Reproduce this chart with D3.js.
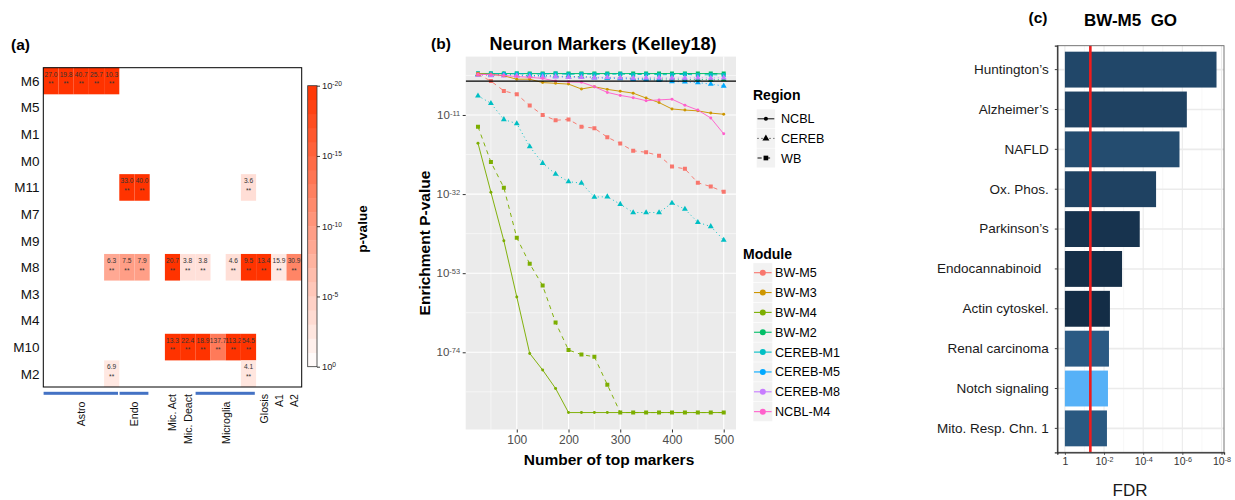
<!DOCTYPE html>
<html>
<head>
<meta charset="utf-8">
<script src="https://cdn.jsdelivr.net/npm/d3@7/dist/d3.min.js"></script>
<style>
  html, body { margin: 0; padding: 0; background: #fff; }
  svg { display: block; }
  text { font-family: "Liberation Sans", Arial, Helvetica, sans-serif; }
</style>
</head>
<body>
<svg id="fig" width="1235" height="500"></svg>
<script>
// ===================== (a) module x cell-type enrichment =====================
const modules = ["M6","M5","M1","M0","M11","M7","M9","M8","M3","M4","M10","M2"];
const cellColumns = ["Astro.1","Astro.2","Astro.3","Astro.4","Astro.5","Endo.1","Endo.2","Other",
  "Mic. Act","Mic. Deact","Microglia.1","Microglia.2","Microglia.3","Microglia.4","Glosis","A1","A2"];
// [label, first column, last column, underlined group]
const columnGroups = [
  ["Astro", "Astro.1", "Astro.5", true],
  ["Endo", "Endo.1", "Endo.2", true],
  ["Mic. Act", "Mic. Act", "Mic. Act", false],
  ["Mic. Deact", "Mic. Deact", "Mic. Deact", false],
  ["Microglia", "Microglia.1", "Microglia.4", true],
  ["Glosis", "Glosis", "Glosis", false],
  ["A1", "A1", "A1", false],
  ["A2", "A2", "A2", false]
];
// [module, column, fold enrichment, -log10 p]
const enrichmentCells = [
  ["M6","Astro.1",27.0,26], ["M6","Astro.2",19.8,23], ["M6","Astro.3",40.7,30], ["M6","Astro.4",25.7,25], ["M6","Astro.5",10.3,21],
  ["M11","Endo.1",33.0,28], ["M11","Endo.2",40.0,30], ["M11","Microglia.4",3.6,3.2],
  ["M8","Astro.5",6.3,8.5], ["M8","Endo.1",7.5,9.5], ["M8","Endo.2",7.9,9.4], ["M8","Mic. Act",20.7,24],
  ["M8","Mic. Deact",3.8,3.0], ["M8","Microglia.1",3.8,3.0], ["M8","Microglia.3",4.6,3.1], ["M8","Microglia.4",9.5,21],
  ["M8","Glosis",13.4,22], ["M8","A1",15.9,2.3], ["M8","A2",30.9,12],
  ["M10","Mic. Act",13.3,23], ["M10","Mic. Deact",22.4,26], ["M10","Microglia.1",18.9,25],
  ["M10","Microglia.2",137.7,13], ["M10","Microglia.3",113.2,22], ["M10","Microglia.4",54.5,21],
  ["M2","Astro.5",6.9,2.3], ["M2","Microglia.4",4.1,2.5]
];
const pvalueTicks = [0, 5, 10, 15, 20];   // -log10 p shown on the colour bar

// ===================== (b) neuron marker enrichment =====================
const markerCounts = [25,50,75,100,125,150,175,200,225,250,275,300,325,350,375,400,425,450,475,500];
const moduleNames  = ["BW-M5","BW-M3","BW-M4","BW-M2","CEREB-M1","CEREB-M5","CEREB-M8","NCBL-M4"];
const moduleColors = ["#F8766D","#CD9600","#7CAE00","#00BE67","#00BFC4","#00A9FF","#C77CFF","#FF61CC"];
const regionNames  = ["NCBL","CEREB","WB"];
const markerTicks  = [100,200,300,400,500];
const pTickExps    = [-11,-32,-53,-74];
const thresholdExp = -2;

// log10 enrichment p-value at each marker count
const bwM2_WB       = [0,0,0,0,0,0,0,0,0,0,0,0,0,0,0,0,0,0,0,0];
const bwM2_NCBL     = [0,0,0,0,0,0,0,0,0,0,0,0,0,0,0,0,0,0,0,-0.1];
const bwM2_CEREB    = [-0.2,-0.3,-0.2,-0.4,-0.5,-0.5,-0.7,-0.8,-0.8,-1.0,-1.1,-1.1,-1.3,-1.4,-1.5,-1.4,-1.6,-1.5,-1.7,-1.6];
const cerebM1_WB    = [0,0,-0.1,0,-0.1,-0.1,0,-0.2,-0.1,-0.2,-0.2,-0.1,-0.3,-0.2,-0.3,-0.3,-0.2,-0.4,-0.3,-0.4];
const cerebM5_CEREB = [-0.3,-0.4,-0.3,-0.5,-0.6,-0.6,-0.8,-0.9,-1.0,-1.1,-1.2,-1.3,-1.5,-1.6,-1.8,-2.1,-2.2,-2.4,-2.8,-3.3];
const cerebM8_CEREB = [-0.4,-0.5,-0.6,-0.6,-0.8,-0.9,-0.8,-1.0,-1.0,-1.1,-1.0,-1.1,-1.2,-1.1,-1.1,-1.2,-1.2,-1.1,-1.2,-1.1];
const bwM5_WB       = [-0.2,-2.0,-4.6,-5.5,-8.5,-11.0,-12.4,-12.2,-14.1,-14.5,-16.9,-18.6,-20.5,-20.9,-21.8,-24.7,-25.3,-29.0,-30.0,-31.4];
const bwM3_NCBL     = [0,-0.2,-0.6,-1.5,-1.5,-2.4,-2.6,-2.8,-4.1,-3.5,-4.2,-4.7,-5.2,-6.5,-7.7,-9.4,-9.7,-9.9,-10.5,-10.8];
const ncblM4_NCBL   = [-0.2,-0.3,-0.5,-0.8,-1.0,-1.3,-2.0,-2.2,-2.3,-3.5,-5.0,-5.8,-6.4,-7.2,-7.0,-6.8,-8.4,-9.7,-11.8,-16.0];
const cerebM1_CEREB = [-5.9,-7.9,-12.2,-13.3,-19.4,-23.8,-26.7,-28.7,-29.1,-32.8,-32.7,-34.7,-36.9,-36.9,-36.9,-34.4,-36.0,-39.5,-40.6,-44.2];
const bwM4_WB       = [-14.1,-23.5,-30.3,-43.6,-50.5,-56.3,-66.1,-73.4,-74.6,-75.2,-82.6,-90,-90,-90,-90,-90,-90,-90,-90,-90];
const bwM4_NCBL     = [-18.5,-31.5,-44.4,-59.3,-74.3,-78.7,-83.6,-90,-90,-90,-90,-90,-90,-90,-90,-90,-90,-90,-90,-90];

// [module, marker region, values] in drawing order
const seriesList = [
  ["BW-M2","WB",bwM2_WB], ["BW-M2","NCBL",bwM2_NCBL], ["BW-M2","CEREB",bwM2_CEREB],
  ["CEREB-M1","WB",cerebM1_WB], ["CEREB-M5","CEREB",cerebM5_CEREB], ["CEREB-M8","CEREB",cerebM8_CEREB],
  ["BW-M5","WB",bwM5_WB], ["BW-M3","NCBL",bwM3_NCBL], ["NCBL-M4","NCBL",ncblM4_NCBL],
  ["CEREB-M1","CEREB",cerebM1_CEREB], ["BW-M4","WB",bwM4_WB], ["BW-M4","NCBL",bwM4_NCBL]
];

// ===================== (c) BW-M5 pathway enrichment =====================
const pathways = ["Huntington\u2019s","Alzheimer\u2019s","NAFLD","Ox. Phos.","Parkinson\u2019s",
  "Endocannabinoid\u00a0\u00a0","Actin cytoskel.","Renal carcinoma","Notch signaling","Mito. Resp. Chn. 1"];
const pathwayFDR   = [1.8e-8, 5.9e-7, 1.4e-6, 2.2e-5, 1.5e-4, 1.2e-3, 5.0e-3, 5.6e-3, 6.3e-3, 7.1e-3];
const pathwayShade = [0.23, 0.19, 0.27, 0.19, 0.07, 0.03, 0.02, 0.38, 1.0, 0.37];
const fdrCutoff = 0.05;
const fdrTicks  = [1, 1e-2, 1e-4, 1e-6, 1e-8];

// ---------------------------------------------------------------------------
const svg = d3.select("#fig");

// "10" with a superscript exponent
function powerLabel(sel, exp, supSize) {
  sel.text(null);
  if (exp === 0 && supSize === null) { sel.text("1"); return; }
  sel.append("tspan").text("10");
  sel.append("tspan").attr("dy", "-0.45em").attr("font-size", supSize).text(exp === 0 ? "0" : "-" + Math.abs(exp));
}

// ---------------- panel (a) ----------------
(function drawA() {
  const g = svg.append("g");
  const xA = d3.scaleBand().domain(cellColumns).range([43.3, 301.7]);
  const yA = d3.scaleBand().domain(modules).range([67.7, 387]);
  const heat = d3.scaleLinear().domain([0, 20]).range(["#ffffff", "#ff3300"]).clamp(true);

  g.append("text").attr("x", 11).attr("y", 49.5).attr("font-size", 15.5).attr("font-weight", "bold").text("(a)");

  g.append("rect").attr("x", 43.3).attr("y", 67.7).attr("width", 258.4).attr("height", 319.3).attr("fill", "#fff");

  const cell = g.selectAll("g.cell").data(enrichmentCells).join("g")
    .attr("transform", d => `translate(${xA(d[1])},${yA(d[0])})`);
  cell.append("rect").attr("width", xA.bandwidth()).attr("height", yA.bandwidth()).attr("fill", d => heat(d[3]));
  cell.append("text").attr("x", xA.bandwidth() / 2).attr("y", yA.bandwidth() / 2 - 4.3)
    .attr("text-anchor", "middle").attr("font-size", 6.6).attr("fill", "#333").text(d => d[2].toFixed(1));
  cell.append("text").attr("x", xA.bandwidth() / 2).attr("y", yA.bandwidth() / 2 + 5.3)
    .attr("text-anchor", "middle").attr("font-size", 6.6).attr("fill", "#333").text("**");

  g.append("rect").attr("x", 43.3).attr("y", 67.7).attr("width", 258.4).attr("height", 319.3)
    .attr("fill", "none").attr("stroke", "#000").attr("stroke-width", 1);

  g.selectAll("text.ylab").data(modules).join("text")
    .attr("x", 39.5).attr("y", d => yA(d) + yA.bandwidth() / 2).attr("dy", "0.36em")
    .attr("text-anchor", "end").attr("font-size", 13.5).attr("fill", "#111").text(d => d);

  const grp = g.selectAll("g.grp").data(columnGroups).join("g");
  grp.filter(d => d[3]).append("rect")
    .attr("x", d => xA(d[1]) + 0.3).attr("y", 391.8)
    .attr("width", d => xA(d[2]) + xA.bandwidth() - xA(d[1]) - 1.6).attr("height", 3)
    .attr("fill", "#4472C4");
  grp.append("text")
    .attr("transform", d => {
      const cx = (xA(d[1]) + xA(d[2]) + xA.bandwidth()) / 2;
      return `translate(${cx},${d[3] ? 401.5 : 394})rotate(-90)`;
    })
    .attr("dy", "0.36em").attr("text-anchor", "end").attr("font-size", 10.6).attr("fill", "#111")
    .text(d => d[0]);

  // colour bar
  const cb = d3.scaleLinear().domain([0, 20]).range([366.7, 85.7]);
  const bins = d3.range(20);
  g.selectAll("rect.bin").data(bins).join("rect")
    .attr("x", 307.7).attr("width", 9.3)
    .attr("y", i => cb(i + 1)).attr("height", i => cb(i) - cb(i + 1) + 0.3)
    .attr("fill", i => heat(i + 0.5));
  g.append("rect").attr("x", 307.7).attr("y", 85.7).attr("width", 9.3).attr("height", 281)
    .attr("fill", "none").attr("stroke", "#333").attr("stroke-width", 0.8);
  const cbAxis = g.append("g").attr("transform", "translate(317,0)")
    .call(d3.axisRight(cb).tickValues(pvalueTicks).tickSize(3).tickPadding(2));
  cbAxis.select(".domain").remove();
  cbAxis.selectAll("line").attr("stroke", "#222").attr("stroke-width", 0.9);
  cbAxis.selectAll("text").attr("font-size", 9.3).attr("fill", "#222").attr("font-family", null)
    .each(function(d) { powerLabel(d3.select(this), d === 0 ? 0 : -d, 6.7); });
  g.append("text").attr("transform", "translate(362.5,229)rotate(-90)").attr("dy", "0.36em")
    .attr("text-anchor", "middle").attr("font-size", 13.5).attr("font-weight", "bold").text("p-value");
})();

// ---------------- panel (b) ----------------
(function drawB() {
  const g = svg.append("g");
  const L = 465.7, R = 736, T = 56.6, B = 429.5;
  const xB = d3.scaleLinear().domain([1.25, 523.75]).range([L, R]);
  const yB = d3.scaleLog().domain([Math.pow(10, -94.5), Math.pow(10, 4.5)]).range([B, T]);
  const P = e => Math.pow(10, e);

  g.append("text").attr("x", 431).attr("y", 48.5).attr("font-size", 15.5).attr("font-weight", "bold").text("(b)");
  g.append("text").attr("x", 603).attr("y", 49.5).attr("text-anchor", "middle")
    .attr("font-size", 18).attr("font-weight", "bold").text("Neuron Markers (Kelley18)");

  g.append("rect").attr("x", L).attr("y", T).attr("width", R - L).attr("height", B - T).attr("fill", "#EBEBEB");
  const minorX = [50,150,250,350,450], minorY = [-0.5,-21.5,-42.5,-63.5,-84.5];
  g.selectAll("line.mx").data(minorX).join("line").attr("x1", xB).attr("x2", xB).attr("y1", T).attr("y2", B)
    .attr("stroke", "#fff").attr("stroke-width", 0.55);
  g.selectAll("line.my").data(minorY).join("line").attr("y1", d => yB(P(d))).attr("y2", d => yB(P(d)))
    .attr("x1", L).attr("x2", R).attr("stroke", "#fff").attr("stroke-width", 0.55);
  g.selectAll("line.gx").data(markerTicks).join("line").attr("x1", xB).attr("x2", xB).attr("y1", T).attr("y2", B)
    .attr("stroke", "#fff").attr("stroke-width", 1.1);
  g.selectAll("line.gy").data(pTickExps).join("line").attr("y1", d => yB(P(d))).attr("y2", d => yB(P(d)))
    .attr("x1", L).attr("x2", R).attr("stroke", "#fff").attr("stroke-width", 1.1);

  const ax = g.append("g").attr("transform", `translate(0,${B})`)
    .call(d3.axisBottom(xB).tickValues(markerTicks).tickSize(3).tickPadding(2.5));
  ax.select(".domain").remove();
  ax.selectAll("line").attr("stroke", "#333");
  ax.selectAll("text").attr("font-size", 12).attr("fill", "#4d4d4d").attr("font-family", null);

  const ay = g.append("g").attr("transform", `translate(${L},0)`)
    .call(d3.axisLeft(yB).tickValues(pTickExps.map(P)).tickSize(3).tickPadding(2.5));
  ay.select(".domain").remove();
  ay.selectAll("line").attr("stroke", "#333");
  ay.selectAll("text").attr("font-size", 11.5).attr("fill", "#4d4d4d").attr("font-family", null)
    .each(function(d, i) { powerLabel(d3.select(this), pTickExps[i], 7.5); });

  g.append("text").attr("x", 609).attr("y", 465).attr("text-anchor", "middle")
    .attr("font-size", 15.5).attr("font-weight", "bold").text("Number of top markers");
  g.append("text").attr("transform", `translate(424,${(T + B) / 2})rotate(-90)`).attr("dy", "0.36em")
    .attr("text-anchor", "middle").attr("font-size", 15.5).attr("font-weight", "bold").text("Enrichment P-value");

  const color = d3.scaleOrdinal().domain(moduleNames).range(moduleColors);
  const dash = { NCBL: null, CEREB: "1,3", WB: "4.2,4.2" };
  const shape = { NCBL: d3.symbolCircle, CEREB: d3.symbolTriangle, WB: d3.symbolSquare };
  const size = { NCBL: 7, CEREB: 15, WB: 16 };
  const line = d3.line().x(d => xB(d[0])).y(d => yB(P(d[1])));

  const clip = g.append("clipPath").attr("id", "clipB");
  clip.append("rect").attr("x", L).attr("y", T).attr("width", R - L).attr("height", B - T);
  const plot = g.append("g").attr("clip-path", "url(#clipB)");

  seriesList.forEach(([mod, region, vals]) => {
    const pts = markerCounts.map((c, i) => [c, vals[i]]);
    plot.append("path").datum(pts).attr("d", line).attr("fill", "none")
      .attr("stroke", color(mod)).attr("stroke-width", 0.95).attr("stroke-dasharray", dash[region]);
    plot.selectAll(null).data(pts).join("path")
      .attr("transform", d => `translate(${xB(d[0])},${yB(P(d[1]))})`)
      .attr("d", d3.symbol().type(shape[region]).size(size[region]))
      .attr("fill", color(mod));
  });

  plot.append("line").attr("x1", L).attr("x2", R).attr("y1", yB(P(thresholdExp))).attr("y2", yB(P(thresholdExp)))
    .attr("stroke", "#000").attr("stroke-width", 1.2);

  // legends
  const lg = g.append("g");
  lg.append("text").attr("x", 753).attr("y", 100).attr("font-size", 14).attr("font-weight", "bold").text("Region");
  regionNames.forEach((r, i) => {
    const cy = 118.8 + i * 19.6;
    lg.append("rect").attr("x", 756.7).attr("y", cy - 9.5).attr("width", 18.4).attr("height", 19).attr("fill", "#F2F2F2");
    lg.append("line").attr("x1", 757.5).attr("x2", 774.3).attr("y1", cy).attr("y2", cy)
      .attr("stroke", "#000").attr("stroke-width", 0.95).attr("stroke-dasharray", dash[r]);
    lg.append("path").attr("transform", `translate(765.9,${cy})`)
      .attr("d", d3.symbol().type(shape[r]).size(size[r] + 6)).attr("fill", "#000");
    lg.append("text").attr("x", 781).attr("y", cy).attr("dy", "0.36em").attr("font-size", 12.6).text(r);
  });
  lg.append("text").attr("x", 743).attr("y", 259).attr("font-size", 14).attr("font-weight", "bold").text("Module");
  moduleNames.forEach((m, i) => {
    const cy = 272.7 + i * 19.85;
    lg.append("rect").attr("x", 753.3).attr("y", cy - 9.6).attr("width", 19).attr("height", 19.2).attr("fill", "#F2F2F2");
    lg.append("line").attr("x1", 754).attr("x2", 771.6).attr("y1", cy).attr("y2", cy)
      .attr("stroke", color(m)).attr("stroke-width", 1.1);
    lg.append("circle").attr("cx", 762.8).attr("cy", cy).attr("r", 3).attr("fill", color(m));
    lg.append("text").attr("x", 775).attr("y", cy).attr("dy", "0.36em").attr("font-size", 12.6).text(m);
  });
})();

// ---------------- panel (c) ----------------
(function drawC() {
  const g = svg.append("g");
  const L = 1057.3, R = 1224, T = 45.7, B = 452.3;
  const xC = d3.scaleLog().domain([Math.pow(10, 0.387), Math.pow(10, -8.127)]).range([L, R]);
  const yC = d3.scaleBand().domain(pathways).range([T, B]).paddingInner(0.1).paddingOuter(0.15);
  const shade = d3.scaleLinear().domain([0, 1]).range(["#132B43", "#56B1F7"]).interpolate(d3.interpolateLab);

  g.append("text").attr("x", 1028.5).attr("y", 22.5).attr("font-size", 15.5).attr("font-weight", "bold").text("(c)");
  g.append("text").attr("x", 1130.5).attr("y", 26).attr("text-anchor", "middle")
    .attr("font-size", 17).attr("font-weight", "bold").attr("xml:space", "preserve").text("BW-M5  GO");

  // grid
  const minor = [1e-1, 1e-3, 1e-5, 1e-7];
  g.selectAll("line.mn").data(minor).join("line").attr("x1", xC).attr("x2", xC).attr("y1", T).attr("y2", B)
    .attr("stroke", "#F2F2F2").attr("stroke-width", 0.6);
  g.selectAll("line.mj").data(fdrTicks).join("line").attr("x1", xC).attr("x2", xC).attr("y1", T).attr("y2", B)
    .attr("stroke", "#EBEBEB").attr("stroke-width", 1.1);
  g.selectAll("line.hy").data(pathways).join("line")
    .attr("y1", d => yC(d) + yC.bandwidth() / 2).attr("y2", d => yC(d) + yC.bandwidth() / 2)
    .attr("x1", L).attr("x2", R).attr("stroke", "#EBEBEB").attr("stroke-width", 1.6);

  g.selectAll("rect.bar").data(pathways).join("rect")
    .attr("x", xC(1)).attr("y", d => yC(d))
    .attr("width", (d, i) => xC(pathwayFDR[i]) - xC(1)).attr("height", yC.bandwidth())
    .attr("fill", (d, i) => shade(pathwayShade[i]));

  g.append("line").attr("x1", xC(fdrCutoff)).attr("x2", xC(fdrCutoff)).attr("y1", T).attr("y2", B)
    .attr("stroke", "#EE1C1C").attr("stroke-width", 2.6);

  g.append("rect").attr("x", L).attr("y", T).attr("width", R - L).attr("height", B - T)
    .attr("fill", "none").attr("stroke", "#666").attr("stroke-width", 0.9);

  const ay = g.append("g").attr("transform", `translate(${L},0)`)
    .call(d3.axisLeft(yC).tickSize(2.5).tickPadding(6));
  ay.select(".domain").attr("stroke", "#333").attr("stroke-width", 1.3);
  ay.selectAll("line").attr("stroke", "#444");
  ay.selectAll("text").attr("font-size", 13.5).attr("fill", "#1a1a1a").attr("font-family", null);

  const ax = g.append("g").attr("transform", `translate(0,${B})`)
    .call(d3.axisBottom(xC).tickValues(fdrTicks).tickSize(2.5).tickPadding(3));
  ax.select(".domain").attr("stroke", "#333").attr("stroke-width", 1.3);
  ax.selectAll("line").attr("stroke", "#444");
  ax.selectAll("text").attr("font-size", 10.5).attr("fill", "#333").attr("font-family", null)
    .each(function(d) { powerLabel(d3.select(this), Math.round(Math.log10(d)), d === 1 ? null : 7.2); });

  g.append("text").attr("x", 1130).attr("y", 496).attr("text-anchor", "middle")
    .attr("font-size", 17).attr("fill", "#1a1a1a").text("FDR");
})();
</script>
</body>
</html>
